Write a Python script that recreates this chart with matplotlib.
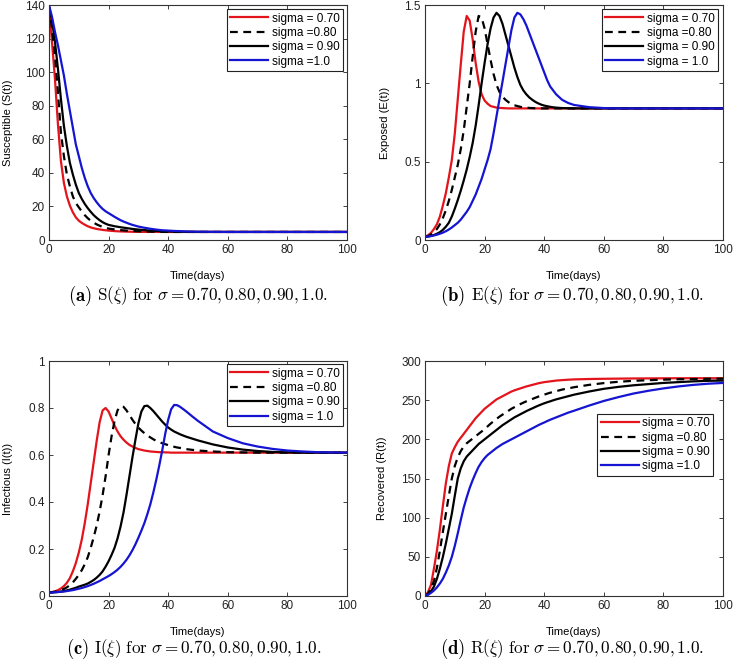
import matplotlib
matplotlib.use("Agg")
import matplotlib.pyplot as plt

# 字体设置
plt.rcParams['font.family'] = ['Liberation Sans', 'DejaVu Sans']
plt.rcParams['mathtext.fontset'] = 'cm'

# time grid (days)
t = [0, 1, 2, 3, 4, 5, 6, 7, 8, 9, 10, 11, 12, 13, 14, 15, 16, 17, 18, 19, 20,
     21, 22, 23, 24, 25, 26, 27, 28, 29, 30,
     31, 32, 33, 34, 35, 36, 37, 38, 39, 40, 41, 42, 43, 44, 46, 48, 50,
     55, 60, 65, 70, 75, 80, 85, 90, 95, 100]

labels_a = ["sigma = 0.70", "sigma =0.80", "sigma = 0.90", "sigma =1.0"]
labels_b = ["sigma = 0.70", "sigma =0.80", "sigma = 0.90", "sigma = 1.0"]

# (a) Susceptible
s_070 = [139, 118, 96, 69, 47, 34, 26, 20.5, 16.5, 13.5, 11.5, 10.2, 9.1, 8.2, 7.5, 7.0, 6.6, 6.3, 6.0, 5.8, 5.6,
         5.45, 5.3, 5.2, 5.1, 5.05, 5.0, 4.95, 4.9, 4.87, 4.85,
         4.84, 4.83, 4.825, 4.82, 4.815, 4.81, 4.805, 4.8, 4.8, 4.8, 4.8, 4.8, 4.8, 4.8, 4.8, 4.8, 4.8,
         4.8, 4.8, 4.8, 4.8, 4.8, 4.8, 4.8, 4.8, 4.8, 4.8]
s_080 = [139, 126, 110, 88, 64, 50, 39, 32, 26, 22, 19.5, 17, 14.8, 13, 11.5, 10.3, 9.3, 8.5, 7.8, 7.3, 6.8,
         6.55, 6.3, 6.1, 5.9, 5.75, 5.6, 5.5, 5.4, 5.3, 5.2,
         5.15, 5.1, 5.05, 5.0, 4.95, 4.9, 4.87, 4.85, 4.83, 4.82, 4.81, 4.8, 4.8, 4.8, 4.8, 4.8, 4.8,
         4.8, 4.8, 4.8, 4.8, 4.8, 4.8, 4.8, 4.8, 4.8, 4.8]
s_090 = [139, 131, 118, 102, 84, 68, 56, 46, 39, 33, 28, 24.5, 21.5, 19, 16.8, 14.8, 13.2, 11.8, 10.6, 9.7, 9.0,
         8.6, 8.2, 7.9, 7.6, 7.35, 7.1, 6.85, 6.6, 6.4, 6.2,
         6.05, 5.9, 5.75, 5.6, 5.5, 5.4, 5.3, 5.2, 5.15, 5.1, 5.05, 5.0, 4.95, 4.9, 4.85, 4.82, 4.8,
         4.8, 4.8, 4.8, 4.8, 4.8, 4.8, 4.8, 4.8, 4.8, 4.8]
s_100 = [140, 133, 124, 116, 107, 98, 87, 77, 67, 57, 50, 43, 37, 32, 28, 25, 22.5, 20.3, 18.5, 17.1, 16,
         14.9, 13.8, 12.8, 11.8, 11.0, 10.3, 9.6, 9.0, 8.5, 8.0,
         7.65, 7.3, 7.0, 6.7, 6.45, 6.2, 6.0, 5.8, 5.7, 5.6, 5.5, 5.4, 5.32, 5.25, 5.1, 5.0, 4.95,
         4.85, 4.8, 4.8, 4.8, 4.8, 4.8, 4.8, 4.8, 4.8, 4.8]

# (b) Exposed
e_070 = [0.02, 0.03, 0.045, 0.07, 0.10, 0.15, 0.22, 0.30, 0.40, 0.51, 0.68, 0.90, 1.12, 1.33, 1.43, 1.40, 1.28, 1.13, 1.01, 0.93, 0.89,
         0.87, 0.855, 0.85, 0.845, 0.843, 0.842, 0.841, 0.84, 0.84, 0.84,
         0.84, 0.84, 0.84, 0.84, 0.84, 0.84, 0.84, 0.84, 0.84, 0.84, 0.84, 0.84, 0.84, 0.84, 0.84, 0.84, 0.84,
         0.84, 0.84, 0.84, 0.84, 0.84, 0.84, 0.84, 0.84, 0.84, 0.84]
e_080 = [0.02, 0.025, 0.035, 0.05, 0.07, 0.10, 0.14, 0.19, 0.25, 0.32, 0.40, 0.48, 0.58, 0.70, 0.85, 1.00, 1.17, 1.33, 1.43, 1.42, 1.35,
         1.25, 1.15, 1.06, 0.99, 0.945, 0.915, 0.895, 0.88, 0.868, 0.86,
         0.855, 0.85, 0.847, 0.845, 0.843, 0.842, 0.841, 0.841, 0.84, 0.84, 0.84, 0.84, 0.84, 0.84, 0.84, 0.84, 0.84,
         0.84, 0.84, 0.84, 0.84, 0.84, 0.84, 0.84, 0.84, 0.84, 0.84]
e_090 = [0.02, 0.022, 0.026, 0.032, 0.04, 0.05, 0.065, 0.085, 0.11, 0.15, 0.20, 0.255, 0.315, 0.38, 0.45, 0.53, 0.62, 0.73, 0.86, 1.00, 1.13,
         1.25, 1.35, 1.42, 1.45, 1.43, 1.38, 1.31, 1.24, 1.17, 1.10,
         1.04, 0.99, 0.955, 0.93, 0.91, 0.895, 0.882, 0.872, 0.864, 0.858, 0.854, 0.85, 0.847, 0.845, 0.842, 0.841, 0.84,
         0.84, 0.84, 0.84, 0.84, 0.84, 0.84, 0.84, 0.84, 0.84, 0.84]
e_100 = [0.02, 0.022, 0.025, 0.029, 0.034, 0.04, 0.047, 0.056, 0.067, 0.08, 0.095, 0.11, 0.13, 0.155, 0.18, 0.21, 0.25, 0.29, 0.34, 0.39, 0.45,
         0.51, 0.58, 0.68, 0.79, 0.90, 1.01, 1.12, 1.23, 1.34, 1.42,
         1.45, 1.44, 1.41, 1.37, 1.32, 1.27, 1.22, 1.17, 1.12, 1.07, 1.02, 0.98, 0.955, 0.93, 0.895, 0.875, 0.862,
         0.848, 0.842, 0.84, 0.84, 0.84, 0.84, 0.84, 0.84, 0.84, 0.84]

# (c) Infectious
i_070 = [0.015, 0.017, 0.02, 0.025, 0.032, 0.042, 0.056, 0.076, 0.105, 0.14, 0.185, 0.24, 0.31, 0.39, 0.48, 0.57, 0.66, 0.74, 0.79, 0.80, 0.785,
         0.755, 0.725, 0.70, 0.68, 0.665, 0.653, 0.643, 0.636, 0.63, 0.625,
         0.622, 0.619, 0.617, 0.615, 0.614, 0.613, 0.612, 0.612, 0.611, 0.611, 0.61, 0.61, 0.61, 0.61, 0.61, 0.61, 0.61,
         0.61, 0.61, 0.61, 0.61, 0.61, 0.61, 0.61, 0.61, 0.61, 0.61]
i_080 = [0.015, 0.016, 0.018, 0.021, 0.025, 0.03, 0.037, 0.046, 0.058, 0.073, 0.09, 0.11, 0.135, 0.165, 0.205, 0.25, 0.30, 0.36, 0.43, 0.51, 0.60,
         0.68, 0.745, 0.79, 0.807, 0.805, 0.79, 0.77, 0.75, 0.732, 0.717,
         0.704, 0.693, 0.683, 0.675, 0.667, 0.66, 0.655, 0.65, 0.646, 0.642, 0.638, 0.635, 0.632, 0.63, 0.625, 0.622, 0.619,
         0.615, 0.612, 0.611, 0.61, 0.61, 0.61, 0.61, 0.61, 0.61, 0.61]
i_090 = [0.015, 0.0155, 0.016, 0.017, 0.019, 0.021, 0.024, 0.027, 0.031, 0.035, 0.04, 0.044, 0.048, 0.053, 0.06, 0.068, 0.078, 0.09, 0.105, 0.125, 0.148,
         0.175, 0.205, 0.245, 0.295, 0.355, 0.43, 0.51, 0.59, 0.665, 0.735,
         0.785, 0.808, 0.81, 0.80, 0.787, 0.772, 0.757, 0.742, 0.729, 0.717, 0.708, 0.70, 0.694, 0.688, 0.678, 0.67, 0.662,
         0.645, 0.632, 0.623, 0.617, 0.613, 0.611, 0.61, 0.61, 0.61, 0.61]
i_100 = [0.015, 0.015, 0.016, 0.017, 0.018, 0.019, 0.021, 0.023, 0.025, 0.028, 0.031, 0.034, 0.038, 0.042, 0.047, 0.052, 0.058, 0.064, 0.071, 0.078, 0.085,
         0.093, 0.102, 0.112, 0.124, 0.138, 0.154, 0.173, 0.195, 0.22, 0.248,
         0.278, 0.31, 0.348, 0.39, 0.44, 0.495, 0.555, 0.62, 0.69, 0.75, 0.795, 0.813, 0.812, 0.805, 0.786, 0.765, 0.745,
         0.70, 0.672, 0.65, 0.636, 0.626, 0.619, 0.615, 0.612, 0.611, 0.61]

# (d) Recovered
r_070 = [0, 5, 14, 35, 58, 85, 115, 144, 166, 182, 190, 197, 202, 207, 212, 217, 222, 227, 231, 235, 239,
         242, 245, 248, 251, 253, 255, 257, 259, 261, 262.5,
         263.8, 265, 266.3, 267.5, 268.5, 269.5, 270.5, 271.5, 272.3, 273, 273.5, 274, 274.5, 275, 275.6, 276.1, 276.5,
         277, 277.3, 277.5, 277.7, 277.8, 277.9, 278, 278, 278, 278]
r_080 = [0, 3, 9, 19, 36, 58, 82, 105, 128, 150, 166, 177, 185, 191, 195, 198, 201, 204, 207, 210, 213,
         216.5, 220, 223, 226, 229, 231.5, 234, 236.5, 239, 241,
         243, 245, 246.8, 248.5, 250, 251.5, 253, 254.5, 255.8, 257, 258.3, 259.5, 260.5, 261.5, 263.5, 265, 266.5,
         269.5, 271.8, 273.5, 274.7, 275.5, 276.2, 276.7, 277, 277.3, 277.5]
r_090 = [0, 2, 6, 12, 22, 35, 50, 67, 86, 105, 128, 150, 163, 172, 178, 182, 186, 190, 194, 197, 200,
         203, 206, 209, 212, 215, 218, 220.5, 223, 225.5, 228,
         230, 232, 234, 236, 237.8, 239.5, 241.3, 243, 244.5, 246, 247.3, 248.5, 249.8, 251, 253, 255, 257,
         261, 264.5, 267, 269, 270.5, 272, 273, 274, 274.7, 275]
r_100 = [0, 1.5, 4, 7, 11, 16, 22, 30, 39, 50, 64, 80, 97, 113, 126, 138, 148, 157, 165, 171, 176,
         180, 183, 186, 189, 191.5, 194, 196, 198, 200, 202,
         204, 206, 208, 210, 212, 214, 216, 218, 219.8, 221.5, 223.3, 225, 226.5, 228, 231, 234, 236.5,
         243, 249, 254, 258.5, 262, 265, 267.5, 269.5, 271, 272]

# 每个子图: 位置, 数据, 纵轴
panels = [
    dict(pos=[49, 5], ys=[s_070, s_080, s_090, s_100], ylabel="Susceptible (S(t))",
         yticks=[0, 20, 40, 60, 80, 100, 120, 140], yticklabels=None, ylim=140,
         legend=labels_a, lab_x=-0.12, cap=("(a)", r"$\mathrm{S}(\xi)\ \mathrm{for}\ \sigma = 0.70, 0.80, 0.90, 1.0.$"),
         cap_x=(92, 97), cap_y=296, leg_anchor=(0.987, 0.983)),
    dict(pos=[425, 5], ys=[e_070, e_080, e_090, e_100], ylabel="Exposed (E(t))",
         yticks=[0, 0.5, 1, 1.5], yticklabels=["0", "0.5", "1", "1.5"], ylim=1.5,
         legend=labels_b, lab_x=-0.117, cap=("(b)", r"$\mathrm{E}(\xi)\ \mathrm{for}\ \sigma = 0.70, 0.80, 0.90, 1.0.$"),
         cap_x=(465, 471), cap_y=296, leg_anchor=(0.983, 0.983)),
    dict(pos=[49, 361], ys=[i_070, i_080, i_090, i_100], ylabel="Infectious (I(t))",
         yticks=[0, 0.2, 0.4, 0.6, 0.8, 1], yticklabels=["0", "0.2", "0.4", "0.6", "0.8", "1"], ylim=1,
         legend=labels_b, lab_x=-0.12, cap=("(c)", r"$\mathrm{I}(\xi)\ \mathrm{for}\ \sigma = 0.70, 0.80, 0.90, 1.0.$"),
         cap_x=(89, 94), cap_y=649, leg_anchor=(0.987, 0.987)),
    dict(pos=[425, 361], ys=[r_070, r_080, r_090, r_100], ylabel="Recovered (R(t))",
         yticks=[0, 50, 100, 150, 200, 250, 300], yticklabels=None, ylim=300,
         legend=labels_a, lab_x=-0.127, cap=("(d)", r"$\mathrm{R}(\xi)\ \mathrm{for}\ \sigma = 0.70, 0.80, 0.90, 1.0.$"),
         cap_x=(465, 470), cap_y=649, leg_anchor=(0.968, 0.775)),
]

colors = ['#e3141b', 'black', 'black', '#1414d2']
styles = ['-', (0, (3.5, 2.5)), '-', '-']

W, H = 734, 663
fig = plt.figure(figsize=(W / 100, H / 100), dpi=100)

for p in panels:
    left, top = p['pos']
    ax = fig.add_axes([left / W, 1 - (top + 235) / H, 298 / W, 235 / H])
    for y, c, ls, lab in zip(p['ys'], colors, styles, p['legend']):
        ax.plot(t, y, color=c, linestyle=ls, linewidth=1.6, label=lab)
    ax.set_xlim(0, 100)
    ax.set_ylim(0, p['ylim'])
    ax.set_xticks([0, 20, 40, 60, 80, 100])
    ax.set_yticks(p['yticks'])
    if p['yticklabels'] is not None:
        ax.set_yticklabels(p['yticklabels'])
    ax.tick_params(direction='in', top=True, right=True, labelsize=8.5, length=3, width=0.6,
                   pad=3, colors='#222222')
    for sp in ax.spines.values():
        sp.set_linewidth(0.8)
        sp.set_color('#333333')
    ax.set_xlabel("Time(days)", fontsize=8)
    ax.xaxis.set_label_coords(0.5, -0.13)
    ax.set_ylabel(p['ylabel'], fontsize=8)
    ax.yaxis.set_label_coords(p['lab_x'], 0.5)
    leg = ax.legend(loc='upper right', bbox_to_anchor=p['leg_anchor'], fontsize=8.5, fancybox=False,
                    edgecolor='#222222', framealpha=1, handlelength=3.2, handletextpad=0.3,
                    labelspacing=0.2, borderpad=0.3, borderaxespad=0.0)
    leg.get_frame().set_linewidth(0.8)

    # 子图标题
    cx1, cx2 = p['cap_x']
    fig.text(cx1 / W, 1 - p['cap_y'] / H, r"$\mathbf{" + p['cap'][0] + "}$", fontsize=13.5,
             ha='right', va='center')
    fig.text(cx2 / W, 1 - p['cap_y'] / H, p['cap'][1], fontsize=12.3, ha='left', va='center')

fig.savefig("out.png", dpi=100)
